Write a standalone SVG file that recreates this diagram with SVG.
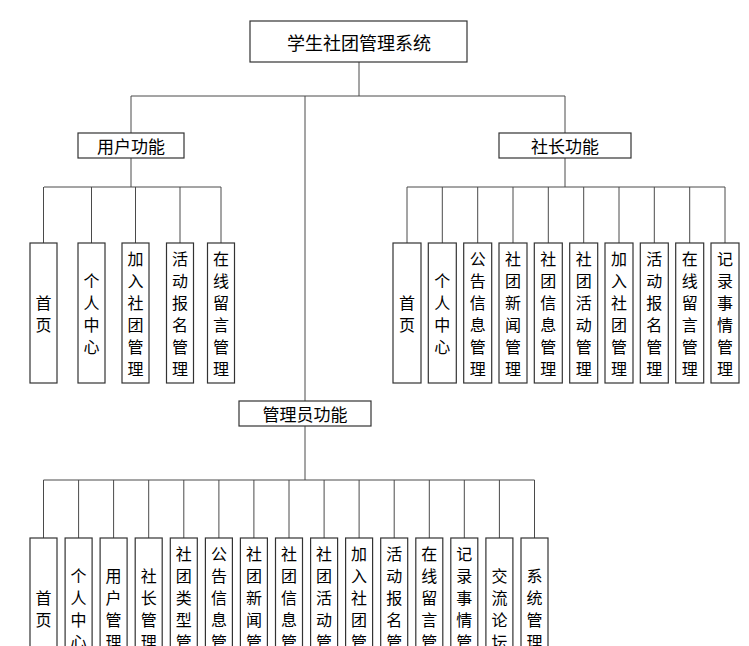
<svg xmlns="http://www.w3.org/2000/svg" width="749" height="646" viewBox="0 0 749 646">
<style>
.box{fill:#fff;stroke:#333;stroke-width:1.2}
.ln{stroke:#4a4a4a;stroke-width:1;fill:none}
.t{font-family:"Noto Sans CJK SC","Liberation Sans",sans-serif;fill:#000;text-anchor:middle;dominant-baseline:central}
.h{font-size:17px}
.v{font-size:16px}
</style>
<rect width="749" height="646" fill="#fff"/>
<g id="connectors" class="ln">
<path d="M359 62V96M131 96H565M131 96V133M565 96V133M305 96V401"/>
<path d="M131 158V187M44 187H221M43.5 187V243M91.5 187V243M135.5 187V243M180 187V243M221 187V243"/>
<path d="M565 158V187M407 187H725M407 187V243M442.3 187V243M477.7 187V243M513 187V243M548.3 187V243M583.7 187V243M619 187V243M654.3 187V243M689.7 187V243M725 187V243"/>
<path d="M305 426V480M43.5 480H534.5M43.5 480V538M78.6 480V538M113.6 480V538M148.7 480V538M183.8 480V538M218.9 480V538M253.9 480V538M289 480V538M324.1 480V538M359.1 480V538M394.2 480V538M429.3 480V538M464.3 480V538M499.4 480V538M534.5 480V538"/>
</g>
<g id="root"><rect class="box" x="250" y="21" width="217" height="41"/><text class="t" x="359" y="42" font-size="18">学生社团管理系统</text></g>
<g id="user"><rect class="box" x="78" y="133" width="106" height="25"/><text class="t h" x="131" y="145.5">用户功能</text></g>
<g id="chief"><rect class="box" x="499" y="133" width="132" height="25"/><text class="t h" x="565" y="145.5">社长功能</text></g>
<g id="admin"><rect class="box" x="239" y="401" width="132" height="25"/><text class="t h" x="305" y="413.5">管理员功能</text></g>

<g id="u1"><rect class="box" x="30" y="243" width="27" height="140"/><text class="t v"><tspan x="43.5" y="302">首</tspan><tspan x="43.5" y="324">页</tspan></text></g>
<g id="u2"><rect class="box" x="78" y="243" width="27" height="140"/><text class="t v"><tspan x="91.5" y="280">个</tspan><tspan x="91.5" y="302">人</tspan><tspan x="91.5" y="324">中</tspan><tspan x="91.5" y="346">心</tspan></text></g>
<g id="u3"><rect class="box" x="122" y="243" width="27" height="140"/><text class="t v"><tspan x="135.5" y="258">加</tspan><tspan x="135.5" y="280">入</tspan><tspan x="135.5" y="302">社</tspan><tspan x="135.5" y="324">团</tspan><tspan x="135.5" y="346">管</tspan><tspan x="135.5" y="368">理</tspan></text></g>
<g id="u4"><rect class="box" x="166.5" y="243" width="27" height="140"/><text class="t v"><tspan x="180" y="258">活</tspan><tspan x="180" y="280">动</tspan><tspan x="180" y="302">报</tspan><tspan x="180" y="324">名</tspan><tspan x="180" y="346">管</tspan><tspan x="180" y="368">理</tspan></text></g>
<g id="u5"><rect class="box" x="207.5" y="243" width="27" height="140"/><text class="t v"><tspan x="221" y="258">在</tspan><tspan x="221" y="280">线</tspan><tspan x="221" y="302">留</tspan><tspan x="221" y="324">言</tspan><tspan x="221" y="346">管</tspan><tspan x="221" y="368">理</tspan></text></g>

<g id="c1"><rect class="box" x="393" y="243" width="28" height="140"/><text class="t v"><tspan x="407" y="302">首</tspan><tspan x="407" y="324">页</tspan></text></g>
<g id="c2"><rect class="box" x="428.3" y="243" width="28" height="140"/><text class="t v"><tspan x="442.3" y="280">个</tspan><tspan x="442.3" y="302">人</tspan><tspan x="442.3" y="324">中</tspan><tspan x="442.3" y="346">心</tspan></text></g>
<g id="c3"><rect class="box" x="463.7" y="243" width="28" height="140"/><text class="t v"><tspan x="477.7" y="258">公</tspan><tspan x="477.7" y="280">告</tspan><tspan x="477.7" y="302">信</tspan><tspan x="477.7" y="324">息</tspan><tspan x="477.7" y="346">管</tspan><tspan x="477.7" y="368">理</tspan></text></g>
<g id="c4"><rect class="box" x="499" y="243" width="28" height="140"/><text class="t v"><tspan x="513" y="258">社</tspan><tspan x="513" y="280">团</tspan><tspan x="513" y="302">新</tspan><tspan x="513" y="324">闻</tspan><tspan x="513" y="346">管</tspan><tspan x="513" y="368">理</tspan></text></g>
<g id="c5"><rect class="box" x="534.3" y="243" width="28" height="140"/><text class="t v"><tspan x="548.3" y="258">社</tspan><tspan x="548.3" y="280">团</tspan><tspan x="548.3" y="302">信</tspan><tspan x="548.3" y="324">息</tspan><tspan x="548.3" y="346">管</tspan><tspan x="548.3" y="368">理</tspan></text></g>
<g id="c6"><rect class="box" x="569.7" y="243" width="28" height="140"/><text class="t v"><tspan x="583.7" y="258">社</tspan><tspan x="583.7" y="280">团</tspan><tspan x="583.7" y="302">活</tspan><tspan x="583.7" y="324">动</tspan><tspan x="583.7" y="346">管</tspan><tspan x="583.7" y="368">理</tspan></text></g>
<g id="c7"><rect class="box" x="605" y="243" width="28" height="140"/><text class="t v"><tspan x="619" y="258">加</tspan><tspan x="619" y="280">入</tspan><tspan x="619" y="302">社</tspan><tspan x="619" y="324">团</tspan><tspan x="619" y="346">管</tspan><tspan x="619" y="368">理</tspan></text></g>
<g id="c8"><rect class="box" x="640.3" y="243" width="28" height="140"/><text class="t v"><tspan x="654.3" y="258">活</tspan><tspan x="654.3" y="280">动</tspan><tspan x="654.3" y="302">报</tspan><tspan x="654.3" y="324">名</tspan><tspan x="654.3" y="346">管</tspan><tspan x="654.3" y="368">理</tspan></text></g>
<g id="c9"><rect class="box" x="675.7" y="243" width="28" height="140"/><text class="t v"><tspan x="689.7" y="258">在</tspan><tspan x="689.7" y="280">线</tspan><tspan x="689.7" y="302">留</tspan><tspan x="689.7" y="324">言</tspan><tspan x="689.7" y="346">管</tspan><tspan x="689.7" y="368">理</tspan></text></g>
<g id="c10"><rect class="box" x="711" y="243" width="28" height="140"/><text class="t v"><tspan x="725" y="258">记</tspan><tspan x="725" y="280">录</tspan><tspan x="725" y="302">事</tspan><tspan x="725" y="324">情</tspan><tspan x="725" y="346">管</tspan><tspan x="725" y="368">理</tspan></text></g>

<g id="a1"><rect class="box" x="30" y="538" width="27" height="140"/><text class="t v"><tspan x="43.5" y="597">首</tspan><tspan x="43.5" y="619">页</tspan></text></g>
<g id="a2"><rect class="box" x="65.1" y="538" width="27" height="140"/><text class="t v"><tspan x="78.6" y="575">个</tspan><tspan x="78.6" y="597">人</tspan><tspan x="78.6" y="619">中</tspan><tspan x="78.6" y="641">心</tspan></text></g>
<g id="a3"><rect class="box" x="100.1" y="538" width="27" height="140"/><text class="t v"><tspan x="113.6" y="575">用</tspan><tspan x="113.6" y="597">户</tspan><tspan x="113.6" y="619">管</tspan><tspan x="113.6" y="641">理</tspan></text></g>
<g id="a4"><rect class="box" x="135.2" y="538" width="27" height="140"/><text class="t v"><tspan x="148.7" y="575">社</tspan><tspan x="148.7" y="597">长</tspan><tspan x="148.7" y="619">管</tspan><tspan x="148.7" y="641">理</tspan></text></g>
<g id="a5"><rect class="box" x="170.3" y="538" width="27" height="140"/><text class="t v"><tspan x="183.8" y="553">社</tspan><tspan x="183.8" y="575">团</tspan><tspan x="183.8" y="597">类</tspan><tspan x="183.8" y="619">型</tspan><tspan x="183.8" y="641">管</tspan><tspan x="183.8" y="663">理</tspan></text></g>
<g id="a6"><rect class="box" x="205.4" y="538" width="27" height="140"/><text class="t v"><tspan x="218.9" y="553">公</tspan><tspan x="218.9" y="575">告</tspan><tspan x="218.9" y="597">信</tspan><tspan x="218.9" y="619">息</tspan><tspan x="218.9" y="641">管</tspan><tspan x="218.9" y="663">理</tspan></text></g>
<g id="a7"><rect class="box" x="240.4" y="538" width="27" height="140"/><text class="t v"><tspan x="253.9" y="553">社</tspan><tspan x="253.9" y="575">团</tspan><tspan x="253.9" y="597">新</tspan><tspan x="253.9" y="619">闻</tspan><tspan x="253.9" y="641">管</tspan><tspan x="253.9" y="663">理</tspan></text></g>
<g id="a8"><rect class="box" x="275.5" y="538" width="27" height="140"/><text class="t v"><tspan x="289" y="553">社</tspan><tspan x="289" y="575">团</tspan><tspan x="289" y="597">信</tspan><tspan x="289" y="619">息</tspan><tspan x="289" y="641">管</tspan><tspan x="289" y="663">理</tspan></text></g>
<g id="a9"><rect class="box" x="310.6" y="538" width="27" height="140"/><text class="t v"><tspan x="324.1" y="553">社</tspan><tspan x="324.1" y="575">团</tspan><tspan x="324.1" y="597">活</tspan><tspan x="324.1" y="619">动</tspan><tspan x="324.1" y="641">管</tspan><tspan x="324.1" y="663">理</tspan></text></g>
<g id="a10"><rect class="box" x="345.6" y="538" width="27" height="140"/><text class="t v"><tspan x="359.1" y="553">加</tspan><tspan x="359.1" y="575">入</tspan><tspan x="359.1" y="597">社</tspan><tspan x="359.1" y="619">团</tspan><tspan x="359.1" y="641">管</tspan><tspan x="359.1" y="663">理</tspan></text></g>
<g id="a11"><rect class="box" x="380.7" y="538" width="27" height="140"/><text class="t v"><tspan x="394.2" y="553">活</tspan><tspan x="394.2" y="575">动</tspan><tspan x="394.2" y="597">报</tspan><tspan x="394.2" y="619">名</tspan><tspan x="394.2" y="641">管</tspan><tspan x="394.2" y="663">理</tspan></text></g>
<g id="a12"><rect class="box" x="415.8" y="538" width="27" height="140"/><text class="t v"><tspan x="429.3" y="553">在</tspan><tspan x="429.3" y="575">线</tspan><tspan x="429.3" y="597">留</tspan><tspan x="429.3" y="619">言</tspan><tspan x="429.3" y="641">管</tspan><tspan x="429.3" y="663">理</tspan></text></g>
<g id="a13"><rect class="box" x="450.8" y="538" width="27" height="140"/><text class="t v"><tspan x="464.3" y="553">记</tspan><tspan x="464.3" y="575">录</tspan><tspan x="464.3" y="597">事</tspan><tspan x="464.3" y="619">情</tspan><tspan x="464.3" y="641">管</tspan><tspan x="464.3" y="663">理</tspan></text></g>
<g id="a14"><rect class="box" x="485.9" y="538" width="27" height="140"/><text class="t v"><tspan x="499.4" y="575">交</tspan><tspan x="499.4" y="597">流</tspan><tspan x="499.4" y="619">论</tspan><tspan x="499.4" y="641">坛</tspan></text></g>
<g id="a15"><rect class="box" x="521" y="538" width="27" height="140"/><text class="t v"><tspan x="534.5" y="575">系</tspan><tspan x="534.5" y="597">统</tspan><tspan x="534.5" y="619">管</tspan><tspan x="534.5" y="641">理</tspan></text></g>
</svg>
